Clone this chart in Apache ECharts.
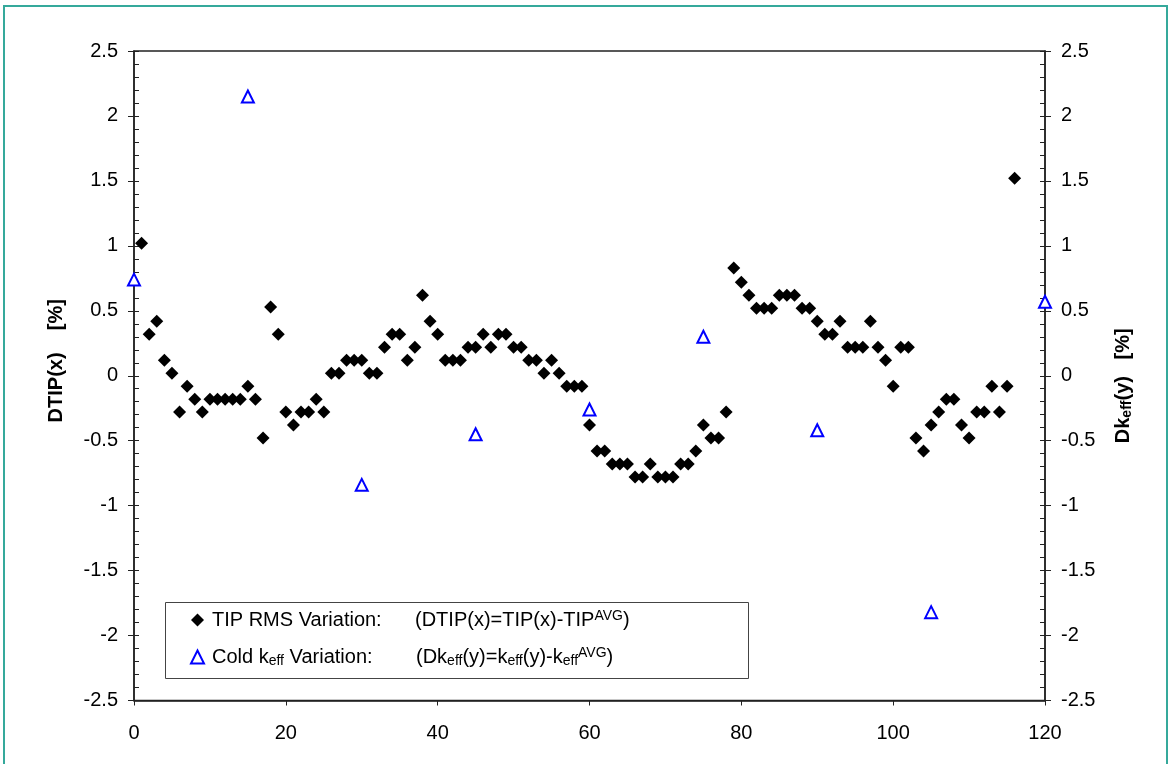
<!DOCTYPE html>
<html>
<head>
<meta charset="utf-8">
<script src="https://cdn.jsdelivr.net/npm/echarts@6/dist/echarts.min.js"></script>
<style>
  html, body { margin: 0; padding: 0; background: #fff; }
  #chart { width: 1172px; height: 764px; }
</style>
</head>
<body>
<div id="chart"></div>
<script>
  // TIP RMS variation, one point per x = 1..116
  var tipVals = [
    1.02, 0.32, 0.42, 0.12, 0.02, -0.28, -0.08, -0.18, -0.28, -0.18,
    -0.18, -0.18, -0.18, -0.18, -0.08, -0.18, -0.48, 0.53, 0.32, -0.28,
    -0.38, -0.28, -0.28, -0.18, -0.28, 0.02, 0.02, 0.12, 0.12, 0.12,
    0.02, 0.02, 0.22, 0.32, 0.32, 0.12, 0.22, 0.62, 0.42, 0.32,
    0.12, 0.12, 0.12, 0.22, 0.22, 0.32, 0.22, 0.32, 0.32, 0.22,
    0.22, 0.12, 0.12, 0.02, 0.12, 0.02, -0.08, -0.08, -0.08, -0.38,
    -0.58, -0.58, -0.68, -0.68, -0.68, -0.78, -0.78, -0.68, -0.78, -0.78,
    -0.78, -0.68, -0.68, -0.58, -0.38, -0.48, -0.48, -0.28, 0.83, 0.72,
    0.62, 0.52, 0.52, 0.52, 0.62, 0.62, 0.62, 0.52, 0.52, 0.42,
    0.32, 0.32, 0.42, 0.22, 0.22, 0.22, 0.42, 0.22, 0.12, -0.08,
    0.22, 0.22, -0.48, -0.58, -0.38, -0.28, -0.18, -0.18, -0.38, -0.48,
    -0.28, -0.28, -0.08, -0.28, -0.08, 1.52
  ]
  var tipX = tipVals.map(function (v, i) { return i + 1 })

  // Cold keff variation
  var coldX = [0, 15, 30, 45, 60, 75, 90, 105, 120]
  var coldVals = [0.74, 2.15, -0.84, -0.45, -0.26, 0.30, -0.42, -1.82, 0.57]

  var xTicks = [0, 20, 40, 60, 80, 100, 120]

  var FONT = 'Liberation Sans, Arial, sans-serif'
  var AX = '#222'

  function yAxisMain(pos, name, pad) {
    return {
      type: 'value', position: pos, min: -2.5, max: 2.5, interval: 0.5,
      name: name, nameLocation: 'middle', nameGap: 67,
      nameTextStyle: {
        fontFamily: FONT, fontSize: 20, fontWeight: 'bold', color: '#000', padding: pad,
        rich: {
          b: { fontFamily: FONT, fontSize: 20, fontWeight: 'bold', color: '#000', lineHeight: 22 },
          s: { fontFamily: FONT, fontSize: 14, fontWeight: 'bold', color: '#000', lineHeight: 14, verticalAlign: 'bottom' }
        }
      },
      axisLine: { show: true, onZero: false, lineStyle: { color: AX, width: 1.5 } },
      axisTick: { show: true, inside: true, length: 5, lineStyle: { color: AX } },
      minorTick: { show: true, splitNumber: 5, length: 5, lineStyle: { color: AX } },
      axisLabel: { fontFamily: FONT, fontSize: 20, color: '#000', margin: 16 },
      splitLine: { show: false }
    }
  }

  function yAxisOuterTicks(pos) {
    return {
      type: 'value', position: pos, min: -2.5, max: 2.5, interval: 0.5,
      axisLine: { show: false },
      axisTick: { show: true, inside: false, length: 6, lineStyle: { color: AX } },
      axisLabel: { show: false },
      splitLine: { show: false }
    }
  }

  var chart = echarts.init(document.getElementById('chart'))
  var option = {
    backgroundColor: '#fff',
    animation: false,
    grid: {
      left: 134, right: 127, top: 51, bottom: 63.5,
      show: true, borderColor: AX, borderWidth: 1.5, backgroundColor: 'transparent'
    },
    xAxis: {
      type: 'value', min: 0, max: 120, interval: 20,
      axisLine: { show: true, onZero: false, lineStyle: { color: AX, width: 1.5 } },
      axisTick: { show: true, inside: false, length: 5, lineStyle: { color: AX } },
      axisLabel: {
        fontFamily: FONT, fontSize: 20, color: '#000', margin: 23,
        customValues: xTicks
      },
      splitLine: { show: false }
    },
    yAxis: [
      yAxisMain('left', '{b|DTIP(x)    [%]}', [0, 0, 0, 30]),
      yAxisMain('right', '{b|Dk}{s|eff}{b|(y)   [%]}', [0, 20, 0, 0]),
      yAxisOuterTicks('left'),
      yAxisOuterTicks('right')
    ],
    legend: {
      orient: 'vertical', left: 190, top: 609, padding: 0, itemGap: 16,
      itemWidth: 13, itemHeight: 13,
      textStyle: {
        fontFamily: FONT, fontSize: 20, color: '#000', padding: [0, 0, 0, 3],
        rich: {
          a: { fontFamily: FONT, fontSize: 20, color: '#000', lineHeight: 22, width: 203 },
          t: { fontFamily: FONT, fontSize: 20, color: '#000', lineHeight: 22 },
          c2: { fontFamily: FONT, fontSize: 20, color: '#000', lineHeight: 22, width: 132 },
          sb: { fontFamily: FONT, fontSize: 14, color: '#000', lineHeight: 14, verticalAlign: 'bottom' },
          sp: { fontFamily: FONT, fontSize: 14, color: '#000', lineHeight: 14, verticalAlign: 'top' }
        }
      },
      formatter: function (name) {
        if (name === 'TIP') {
          return '{a|TIP RMS Variation:}{t|(DTIP(x)=TIP(x)-TIP}{sp|AVG}{t|)}'
        }
        return '{t|Cold k}{sb|eff}{c2| Variation:}{t|(Dk}{sb|eff}{t|(y)=k}{sb|eff}{t|(y)-k}{sb|eff}{sp|AVG}{t|)}'
      },
      data: ['TIP', 'Cold']
    },
    graphic: [
      {
        type: 'rect', z: -1, silent: true,
        shape: { x: 4, y: 6, width: 1163, height: 770 },
        style: { fill: '#fff', stroke: '#35a99b', lineWidth: 2 }
      },
      {
        type: 'rect', z: 1, silent: true,
        shape: { x: 165.5, y: 602.5, width: 583, height: 76 },
        style: { fill: '#fff', stroke: '#444', lineWidth: 1 }
      }
    ],
    series: [
      {
        name: 'TIP', type: 'scatter', xAxisIndex: 0, yAxisIndex: 0,
        symbol: 'diamond', symbolSize: 13, clip: false, z: 3,
        itemStyle: { color: '#000', opacity: 1 },
        data: tipX.map(function (x, i) { return [x, tipVals[i]] })
      },
      {
        name: 'Cold', type: 'scatter', xAxisIndex: 0, yAxisIndex: 1,
        symbol: 'triangle', symbolSize: 12, clip: false, z: 3,
        itemStyle: { color: '#fff', borderColor: '#0000ff', borderWidth: 2, opacity: 1 },
        data: coldX.map(function (x, i) { return [x, coldVals[i]] })
      }
    ]
  }
  chart.setOption(option)
</script>
</body>
</html>
